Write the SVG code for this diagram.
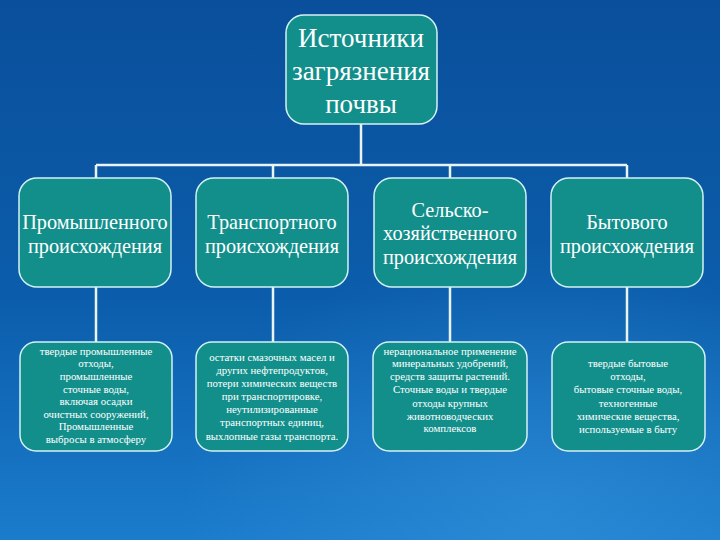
<svg xmlns="http://www.w3.org/2000/svg" width="720" height="540" viewBox="0 0 720 540">
<defs>
<linearGradient id="bg" x1="0" y1="0" x2="0" y2="1">
<stop offset="0" stop-color="#0a4f9b"/>
<stop offset="0.55" stop-color="#0b5dab"/>
<stop offset="1" stop-color="#1b7ccc"/>
</linearGradient>
<radialGradient id="glow" cx="0.75" cy="0.95" r="0.5">
<stop offset="0" stop-color="#3b9ae0" stop-opacity="0.45"/>
<stop offset="1" stop-color="#3b9ae0" stop-opacity="0"/>
</radialGradient>
<style>
.box{fill:#138f8b;stroke:#d4f2f2;stroke-width:1.5}
.t{fill:#ffffff;font-family:"Liberation Serif","Times New Roman",serif;text-anchor:middle}
.title{font-size:27px}
.h{font-size:20.3px}
.s{font-size:10.8px}
.c{stroke:#e8f4f4;stroke-width:2.5;fill:none}
</style>
</defs>
<rect width="720" height="540" fill="url(#bg)"/>
<rect width="720" height="540" fill="url(#glow)"/>
<g id="connectors">
<path class="c" d="M361 124V165M96 165H627M96 165V178M273 165V178M450 165V178M627 165V178"/>
<path class="c" d="M96 287V342M273 287V342M450 287V342M627 287V342"/>
</g>
<g id="root">
<rect class="box" x="286" y="15" width="151" height="109" rx="18"/>
<text class="t title" x="361" y="47">Источники</text>
<text class="t title" x="361" y="80">загрязнения</text>
<text class="t title" x="361" y="113">почвы</text>
</g>
<g id="n1">
<rect class="box" x="19" y="178" width="152" height="109" rx="18"/>
<text class="t h" x="95" y="229">Промышленного</text>
<text class="t h" x="95" y="253">происхождения</text>
</g>
<g id="n2">
<rect class="box" x="196" y="178" width="152" height="109" rx="18"/>
<text class="t h" x="272" y="229">Транспортного</text>
<text class="t h" x="272" y="253">происхождения</text>
</g>
<g id="n3">
<rect class="box" x="374" y="178" width="152" height="109" rx="18"/>
<text class="t h" x="450" y="217">Сельско-</text>
<text class="t h" x="450" y="240">хозяйственного</text>
<text class="t h" x="450" y="264">происхождения</text>
</g>
<g id="n4">
<rect class="box" x="551" y="178" width="152" height="109" rx="18"/>
<text class="t h" x="627" y="229">Бытового</text>
<text class="t h" x="627" y="253">происхождения</text>
</g>
<g id="d1">
<rect class="box" x="20" y="342" width="152" height="109" rx="16"/>
<text class="t s" x="96" y="355">твердые промышленные</text>
<text class="t s" x="96" y="367">отходы,</text>
<text class="t s" x="96" y="380">промышленные</text>
<text class="t s" x="96" y="393">сточные воды,</text>
<text class="t s" x="96" y="405">включая осадки</text>
<text class="t s" x="96" y="418">очистных сооружений,</text>
<text class="t s" x="96" y="430">Промышленные</text>
<text class="t s" x="96" y="443">выбросы в атмосферу</text>
</g>
<g id="d2">
<rect class="box" x="196" y="342" width="152" height="109" rx="16"/>
<text class="t s" x="272" y="361">остатки смазочных масел и</text>
<text class="t s" x="272" y="374">других нефтепродуктов,</text>
<text class="t s" x="272" y="387">потери химических веществ</text>
<text class="t s" x="272" y="400">при транспортировке,</text>
<text class="t s" x="272" y="413">неутилизированные</text>
<text class="t s" x="272" y="426">транспортных единиц,</text>
<text class="t s" x="272" y="440">выхлопные газы транспорта.</text>
</g>
<g id="d3">
<rect class="box" x="373" y="342" width="154" height="109" rx="16"/>
<text class="t s" x="450" y="355">нерациональное применение</text>
<text class="t s" x="450" y="367">минеральных удобрений,</text>
<text class="t s" x="450" y="380">средств защиты растений.</text>
<text class="t s" x="450" y="393">Сточные воды и твердые</text>
<text class="t s" x="450" y="407">отходы крупных</text>
<text class="t s" x="450" y="420">животноводческих</text>
<text class="t s" x="450" y="432">комплексов</text>
</g>
<g id="d4">
<rect class="box" x="552" y="342" width="153" height="109" rx="16"/>
<text class="t s" x="628" y="367">твердые бытовые</text>
<text class="t s" x="628" y="380">отходы,</text>
<text class="t s" x="628" y="393">бытовые сточные воды,</text>
<text class="t s" x="628" y="407">техногенные</text>
<text class="t s" x="628" y="420">химические вещества,</text>
<text class="t s" x="628" y="433">используемые в быту</text>
</g>
</svg>
